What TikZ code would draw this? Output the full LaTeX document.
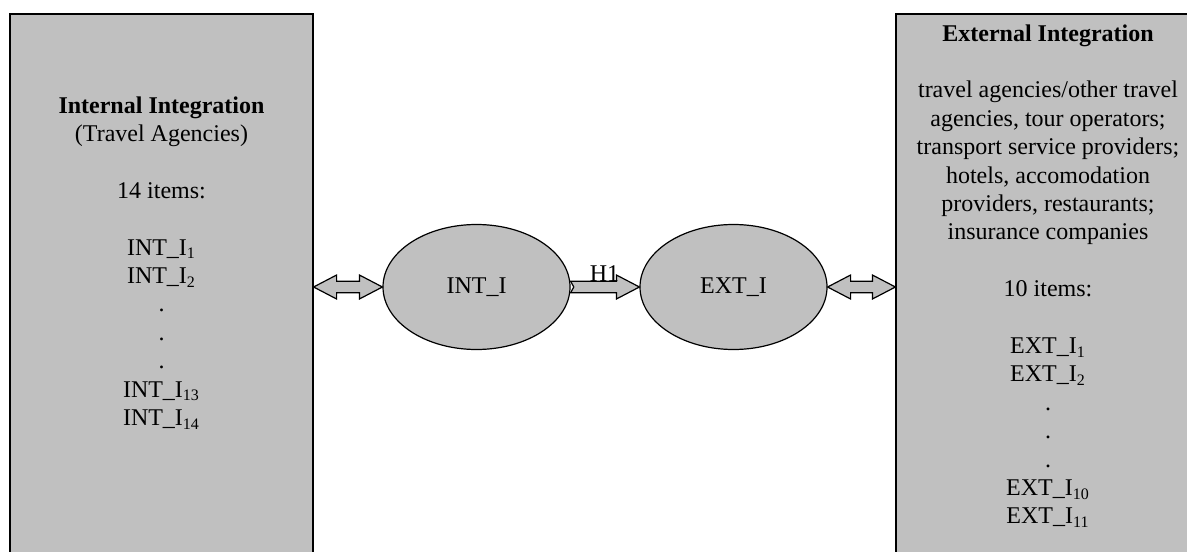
\documentclass[tikz,border=0pt]{standalone}
\usepackage{fontspec}
\setmainfont{Liberation Serif}
\usetikzlibrary{calc,shapes.geometric}
\definecolor{boxgray}{HTML}{C0C0C0}
\newcommand\blockdbl[2]{%
  \draw[arr] let \p1=(#1), \p2=(#2) in
    (\x1,\y1) -- (\x1+11.5pt,\y1+6pt) -- (\x1+11.5pt,\y1+2.9pt) --
    (\x2-11.5pt,\y1+2.9pt) -- (\x2-11.5pt,\y1+6pt) -- (\x2,\y1) --
    (\x2-11.5pt,\y1-6pt) -- (\x2-11.5pt,\y1-2.9pt) --
    (\x1+11.5pt,\y1-2.9pt) -- (\x1+11.5pt,\y1-6pt) -- cycle;}
\newcommand\blocksgl[2]{%
  \draw[arr] let \p1=(#1), \p2=(#2) in
    (\x1,\y1+2.9pt) -- (\x2-11.5pt,\y1+2.9pt) -- (\x2-11.5pt,\y1+6pt) --
    (\x2,\y1) -- (\x2-11.5pt,\y1-6pt) -- (\x2-11.5pt,\y1-2.9pt) --
    (\x1,\y1-2.9pt) -- (\x1+1.6pt,\y1) -- cycle;}
\begin{document}
\begin{tikzpicture}[x=0.5pt,y=-0.5pt,
  panel/.style={draw=black,line width=0.6pt,fill=boxgray,rectangle,inner sep=0pt},
  oval/.style={draw=black,line width=0.6pt,fill=boxgray,ellipse,inner sep=0pt,
    minimum width=93.5pt,minimum height=62.5pt,font=\fontsize{12}{14.2}\selectfont},
  txt/.style={align=center,inner sep=0pt,font=\fontsize{12}{14.2}\selectfont},
  arr/.style={draw=black,line width=0.6pt,fill=boxgray,line join=miter}]
\useasboundingbox (0,0) rectangle (1187,551);
\clip (0,0) rectangle (1187,551);
\node[panel,minimum width=151.5pt,minimum height=303pt] (lbox) at (161.5,317) {};
\node[panel,minimum width=152pt,minimum height=303pt] (rbox) at (1048,317) {};
\node[oval] (inti) at (476.5,287) {INT\_I};
\node[oval] (exti) at (733.5,287) {EXT\_I};
\node[txt,anchor=north] (ltext) at (161.5,96) {\textbf{Internal Integration}\\(Travel Agencies)\\[14.2pt]14 items:\\[14.2pt]INT\_I\textsubscript{1}\\INT\_I\textsubscript{2}\\.\\.\\.\\INT\_I\textsubscript{13}\\INT\_I\textsubscript{14}};
\node[txt,anchor=north] (rtext) at (1048,24) {\textbf{External Integration}\\[14.2pt]travel agencies/other travel\\agencies, tour operators;\\transport service providers;\\hotels, accomodation\\providers, restaurants;\\insurance companies\\[14.2pt]10 items:\\[14.2pt]EXT\_I\textsubscript{1}\\EXT\_I\textsubscript{2}\\.\\.\\.\\EXT\_I\textsubscript{10}\\EXT\_I\textsubscript{11}};
\blockdbl{lbox.east |- inti.west}{inti.west}
\blockdbl{exti.east}{rbox.west |- exti.east}
\blocksgl{inti.east}{exti.west}
\node[txt,anchor=base] (h1) at (604.5,281) {H1};
\end{tikzpicture}
\end{document}
